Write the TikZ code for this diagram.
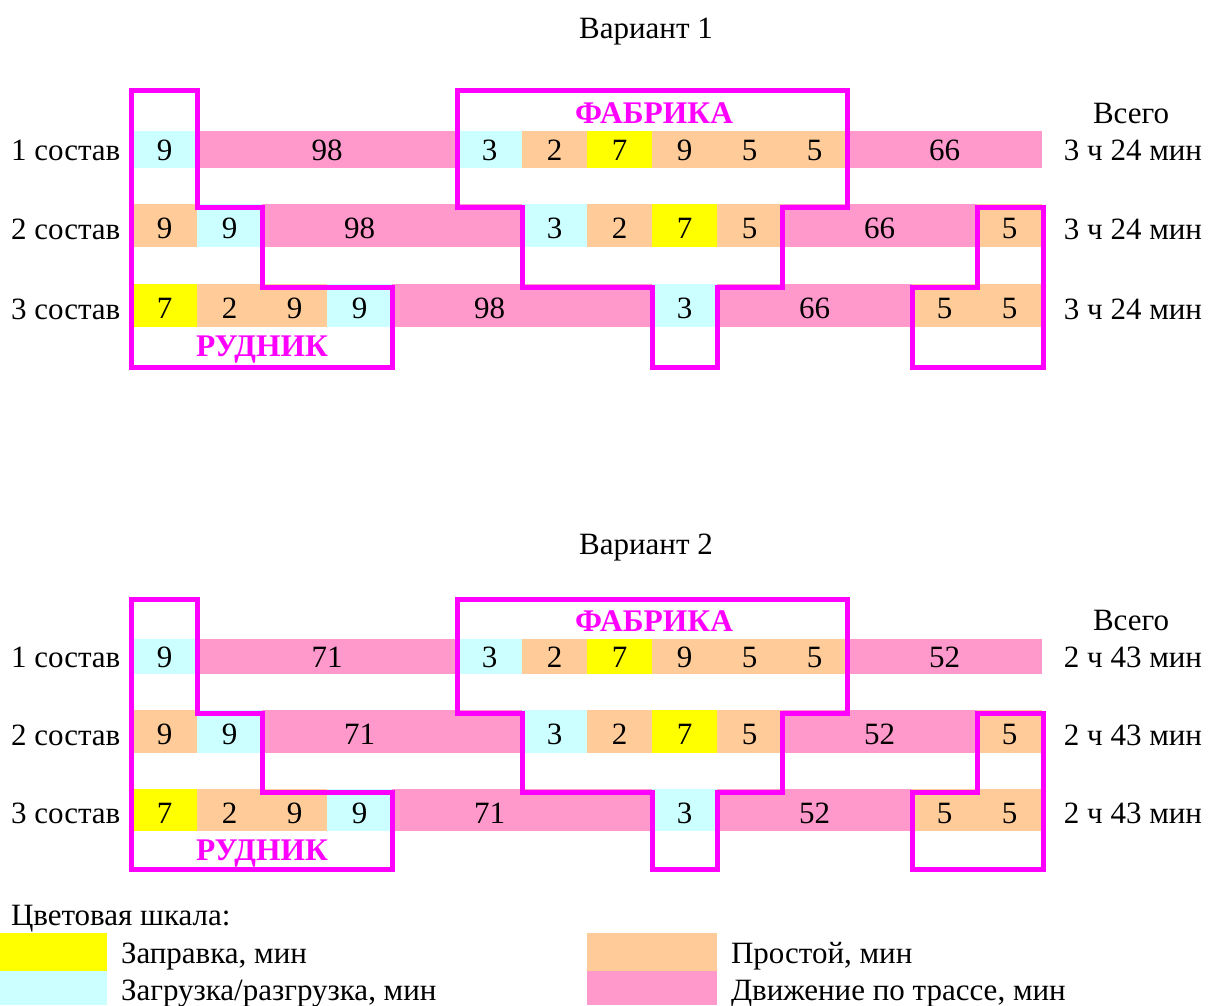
\documentclass[tikz,border=0pt]{standalone}
\usepackage{fontspec}
\setmainfont{Liberation Serif}
\definecolor{cpink}{HTML}{FF99CC}
\definecolor{corange}{HTML}{FFCC99}
\definecolor{ccyan}{HTML}{CCFFFF}
\definecolor{cyellow}{HTML}{FFFF00}
\definecolor{cmag}{HTML}{FF00FF}
\tikzset{
  txt/.style={font=\fontsize{31}{37}\selectfont, inner sep=0pt, outer sep=0pt},
  cellbox/.style={txt, anchor=north west, text depth=0pt},
  frame/.style={draw=cmag, line width=5pt, line join=miter},
  tag/.style={font=\fontsize{31.5}{37}\selectfont\bfseries, text=cmag, inner sep=0pt, anchor=base},
  swatch/.style={inner sep=0pt, outer sep=0pt, anchor=north west},
}
% #1 name, #2 first column, #3 span, #4 colour, #5 top, #6 height, #7 text, #8 text height
\newcommand\cel[8]{\node[cellbox, fill=#4, minimum width={65*#3}, minimum height=#6, text height=#8] (#1) at ({132+65*#2},#5) {#7};}
\begin{document}
\begin{tikzpicture}[x=1pt,y=-1pt]
\useasboundingbox (0,0) rectangle (1208,1005);

% ================= Variant 1 =================
\node[txt, anchor=base] (t1) at (646,38) {Вариант 1};
\node[txt, anchor=base] (all1) at (1131,123) {Всего};
% row 1
\node[txt, anchor=base west] (l11) at (11,160) {1 состав};
\cel{a1a}{0}{1}{ccyan}{131}{37}{9}{21}
\cel{a1b}{1}{4}{cpink}{131}{37}{98}{21}
\cel{a1c}{5}{1}{ccyan}{131}{37}{3}{21}
\cel{a1d}{6}{1}{corange}{131}{37}{2}{21}
\cel{a1e}{7}{1}{cyellow}{131}{37}{7}{21}
\cel{a1f}{8}{1}{corange}{131}{37}{9}{21}
\cel{a1g}{9}{1}{corange}{131}{37}{5}{21}
\cel{a1h}{10}{1}{corange}{131}{37}{5}{21}
\cel{a1i}{11}{3}{cpink}{131}{37}{66}{21}
\node[txt, anchor=base] (s11) at (1133,160) {3 ч 24 мин};
% row 2
\node[txt, anchor=base west] (l12) at (11,239) {2 состав};
\cel{a2a}{0}{1}{corange}{204}{43}{9}{25}
\cel{a2b}{1}{1}{ccyan}{204}{43}{9}{25}
\cel{a2c}{2}{3}{cpink}{204}{43}{98}{25}
\cel{a2d}{5}{1}{cpink}{204}{43}{}{25}
\cel{a2e}{6}{1}{ccyan}{204}{43}{3}{25}
\cel{a2f}{7}{1}{corange}{204}{43}{2}{25}
\cel{a2g}{8}{1}{cyellow}{204}{43}{7}{25}
\cel{a2h}{9}{1}{corange}{204}{43}{5}{25}
\cel{a2i}{10}{3}{cpink}{204}{43}{66}{25}
\cel{a2j}{13}{1}{corange}{204}{43}{5}{25}
\node[txt, anchor=base] (s12) at (1133,239) {3 ч 24 мин};
% row 3
\node[txt, anchor=base west] (l13) at (11,319) {3 состав};
\cel{a3a}{0}{1}{cyellow}{284}{43}{7}{25}
\cel{a3b}{1}{1}{corange}{284}{43}{2}{25}
\cel{a3c}{2}{1}{corange}{284}{43}{9}{25}
\cel{a3d}{3}{1}{ccyan}{284}{43}{9}{25}
\cel{a3e}{4}{3}{cpink}{284}{43}{98}{25}
\cel{a3f}{7}{1}{cpink}{284}{43}{}{25}
\cel{a3g}{8}{1}{ccyan}{284}{43}{3}{25}
\cel{a3h}{9}{3}{cpink}{284}{43}{66}{25}
\cel{a3i}{12}{1}{corange}{284}{43}{5}{25}
\cel{a3j}{13}{1}{corange}{284}{43}{5}{25}
\node[txt, anchor=base] (s13) at (1133,319) {3 ч 24 мин};
% frames
\draw[frame] (131,90) -- (197,90) -- (197,207) -- (262,207) -- (262,287) -- (392,287) -- (392,367) -- (131,367) -- cycle;
\draw[frame] (457,90) -- (847,90) -- (847,207) -- (782,207) -- (782,287) -- (717,287) -- (717,367) -- (652,367) -- (652,287) -- (522,287) -- (522,207) -- (457,207) -- cycle;
\draw[frame] (977,207) -- (1043,207) -- (1043,367) -- (912,367) -- (912,287) -- (977,287) -- cycle;
\node[tag] (fab1) at (654,123) {ФАБРИКА};
\node[tag] (rud1) at (262,356) {РУДНИК};

% ================= Variant 2 =================
\node[txt, anchor=base] (t2) at (646,554) {Вариант 2};
\node[txt, anchor=base] (all2) at (1131,630) {Всего};
% row 1
\node[txt, anchor=base west] (l21) at (11,667) {1 состав};
\cel{b1a}{0}{1}{ccyan}{639}{35}{9}{21}
\cel{b1b}{1}{4}{cpink}{639}{35}{71}{21}
\cel{b1c}{5}{1}{ccyan}{639}{35}{3}{21}
\cel{b1d}{6}{1}{corange}{639}{35}{2}{21}
\cel{b1e}{7}{1}{cyellow}{639}{35}{7}{21}
\cel{b1f}{8}{1}{corange}{639}{35}{9}{21}
\cel{b1g}{9}{1}{corange}{639}{35}{5}{21}
\cel{b1h}{10}{1}{corange}{639}{35}{5}{21}
\cel{b1i}{11}{3}{cpink}{639}{35}{52}{21}
\node[txt, anchor=base] (s21) at (1133,667) {2 ч 43 мин};
% row 2
\node[txt, anchor=base west] (l22) at (11,745) {2 состав};
\cel{b2a}{0}{1}{corange}{710}{43}{9}{25}
\cel{b2b}{1}{1}{ccyan}{710}{43}{9}{25}
\cel{b2c}{2}{3}{cpink}{710}{43}{71}{25}
\cel{b2d}{5}{1}{cpink}{710}{43}{}{25}
\cel{b2e}{6}{1}{ccyan}{710}{43}{3}{25}
\cel{b2f}{7}{1}{corange}{710}{43}{2}{25}
\cel{b2g}{8}{1}{cyellow}{710}{43}{7}{25}
\cel{b2h}{9}{1}{corange}{710}{43}{5}{25}
\cel{b2i}{10}{3}{cpink}{710}{43}{52}{25}
\cel{b2j}{13}{1}{corange}{710}{43}{5}{25}
\node[txt, anchor=base] (s22) at (1133,745) {2 ч 43 мин};
% row 3
\node[txt, anchor=base west] (l23) at (11,823) {3 состав};
\cel{b3a}{0}{1}{cyellow}{789}{42}{7}{26}
\cel{b3b}{1}{1}{corange}{789}{42}{2}{26}
\cel{b3c}{2}{1}{corange}{789}{42}{9}{26}
\cel{b3d}{3}{1}{ccyan}{789}{42}{9}{26}
\cel{b3e}{4}{3}{cpink}{789}{42}{71}{26}
\cel{b3f}{7}{1}{cpink}{789}{42}{}{26}
\cel{b3g}{8}{1}{ccyan}{789}{42}{3}{26}
\cel{b3h}{9}{3}{cpink}{789}{42}{52}{26}
\cel{b3i}{12}{1}{corange}{789}{42}{5}{26}
\cel{b3j}{13}{1}{corange}{789}{42}{5}{26}
\node[txt, anchor=base] (s23) at (1133,823) {2 ч 43 мин};
% frames
\draw[frame] (131,599) -- (197,599) -- (197,713) -- (262,713) -- (262,792) -- (392,792) -- (392,869) -- (131,869) -- cycle;
\draw[frame] (457,599) -- (847,599) -- (847,713) -- (782,713) -- (782,792) -- (717,792) -- (717,869) -- (652,869) -- (652,792) -- (522,792) -- (522,713) -- (457,713) -- cycle;
\draw[frame] (977,713) -- (1043,713) -- (1043,869) -- (912,869) -- (912,792) -- (977,792) -- cycle;
\node[tag] (fab2) at (654,631) {ФАБРИКА};
\node[tag] (rud2) at (262,860) {РУДНИК};

% ================= Legend =================
\node[txt, anchor=base west] (lg) at (11,925) {Цветовая шкала:};
\node[swatch, fill=cyellow, minimum width=107, minimum height=38] (sw1) at (0,933) {};
\node[swatch, fill=ccyan, minimum width=107, minimum height=34] (sw2) at (0,971) {};
\node[swatch, fill=corange, minimum width=130, minimum height=38] (sw3) at (587,933) {};
\node[swatch, fill=cpink, minimum width=130, minimum height=34] (sw4) at (587,971) {};
\node[txt, anchor=base west] (lt1) at (121,963) {Заправка, мин};
\node[txt, anchor=base west] (lt2) at (121,1000) {Загрузка/разгрузка, мин};
\node[txt, anchor=base west] (lt3) at (731,963) {Простой, мин};
\node[txt, anchor=base west] (lt4) at (731,1000) {Движение по трассе, мин};
\end{tikzpicture}
\end{document}
